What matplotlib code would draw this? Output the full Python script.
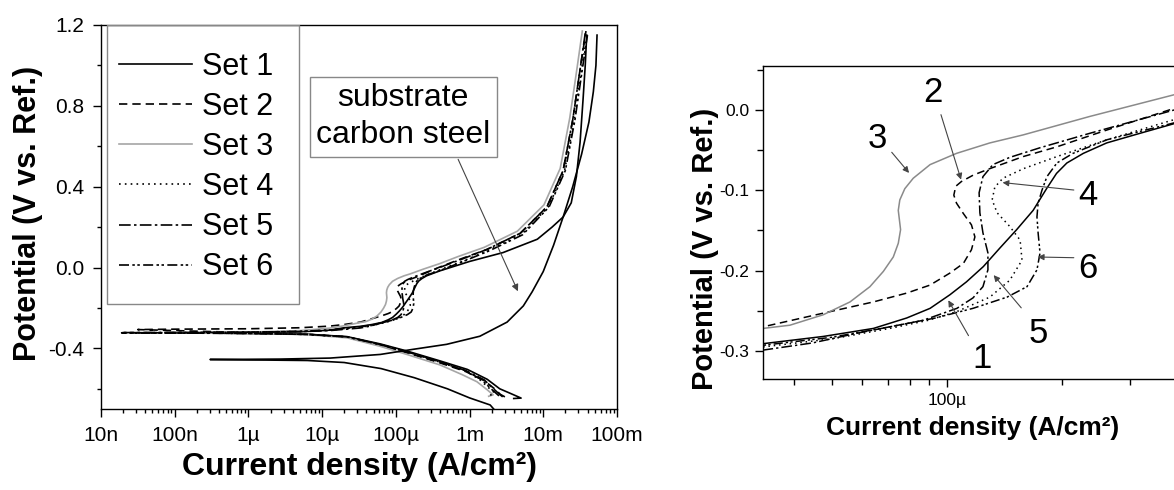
import numpy as np
import matplotlib.pyplot as plt
from matplotlib.patches import Rectangle
from matplotlib.ticker import FixedLocator, FuncFormatter, LogLocator, MultipleLocator, NullFormatter

plt.rcParams['font.family'] = ['Liberation Sans', 'DejaVu Sans']

# log10 of current density (A/cm2) and potential (V vs. Ref.)
# each curve runs cathodic end -> Ecorr -> anodic end
set1_logi = [-2.40, -2.30, -2.45, -2.59, -2.76, -3.03, -3.40, -3.85, -4.21, -4.66, -5.20, -6.00, -6.60,
             -6.00, -5.30, -4.90, -4.70, -4.48, -4.323, -4.192, -4.105, -4.044, -3.992, -3.949, -3.905,
             -3.862, -3.818, -3.775, -3.740, -3.714, -3.687, -3.644, -3.583, -3.496, -3.407, -3.00,
             -2.545, -2.08, -1.88, -1.73, -1.62, -1.55, -1.50, -1.46, -1.43, -1.41]
set1_e = [-0.648, -0.646, -0.622, -0.600, -0.553, -0.504, -0.462, -0.413, -0.378, -0.342, -0.330, -0.326, -0.324,
          -0.321, -0.318, -0.310, -0.298, -0.291, -0.282, -0.272, -0.259, -0.247, -0.230, -0.214, -0.195,
          -0.172, -0.149, -0.125, -0.098, -0.079, -0.066, -0.054, -0.041, -0.029, -0.017, 0.030,
          0.074, 0.140, 0.200, 0.250, 0.320, 0.450, 0.620, 0.830, 1.000, 1.150]

set2_logi = [-2.52, -2.58, -2.66, -2.80, -3.05, -3.40, -3.85, -4.21, -4.66, -5.20, -6.00, -7.00, -7.50,
             -7.00, -6.00, -5.30, -4.90, -4.70, -4.48, -4.323, -4.192, -4.105, -4.044, -3.992, -3.957,
             -3.936, -3.927, -3.936, -3.957, -3.975, -3.982, -3.977, -3.962, -3.931, -3.888, -3.801,
             -3.714, -3.583, -3.407, -3.10, -2.76, -2.31, -1.95, -1.73, -1.60, -1.50, -1.42]
set2_e = [-0.640, -0.628, -0.600, -0.560, -0.515, -0.472, -0.422, -0.385, -0.345, -0.330, -0.322, -0.312, -0.307,
          -0.305, -0.303, -0.298, -0.290, -0.282, -0.270, -0.253, -0.239, -0.228, -0.218, -0.203, -0.191,
          -0.174, -0.158, -0.143, -0.129, -0.116, -0.106, -0.095, -0.089, -0.081, -0.073, -0.058,
          -0.046, -0.025, 0.002, 0.045, 0.090, 0.170, 0.300, 0.480, 0.730, 0.980, 1.170]

set3_logi = [-2.74, -2.68, -2.76, -2.90, -3.10, -3.40, -3.85, -4.21, -4.66, -5.20, -6.00, -6.90,
             -6.00, -5.30, -4.90, -4.70, -4.48, -4.41, -4.323, -4.253, -4.201, -4.166, -4.140, -4.127,
             -4.121, -4.124, -4.127, -4.123, -4.110, -4.088, -4.044, -3.975, -3.888, -3.801, -3.627,
             -3.407, -3.15, -2.80, -2.35, -1.99, -1.77, -1.64, -1.54, -1.47]
set3_e = [-0.637, -0.630, -0.605, -0.565, -0.530, -0.482, -0.430, -0.390, -0.348, -0.332, -0.326, -0.324,
          -0.320, -0.312, -0.300, -0.288, -0.272, -0.268, -0.255, -0.239, -0.220, -0.201, -0.183, -0.166,
          -0.149, -0.137, -0.125, -0.112, -0.098, -0.085, -0.068, -0.054, -0.041, -0.031, -0.008,
          0.019, 0.055, 0.100, 0.180, 0.310, 0.490, 0.740, 0.990, 1.170]

set4_logi = [-2.72, -2.66, -2.74, -2.86, -3.05, -3.40, -3.85, -4.21, -4.66, -5.20, -6.00, -7.30,
             -6.00, -5.30, -4.90, -4.70, -4.48, -4.30, -4.149, -4.05, -3.974, -3.888, -3.836, -3.804,
             -3.809, -3.836, -3.869, -3.882, -3.875, -3.854, -3.80, -3.713, -3.582, -3.407, -3.10,
             -2.74, -2.29, -1.93, -1.71, -1.58, -1.48, -1.41]
set4_e = [-0.632, -0.620, -0.595, -0.555, -0.512, -0.468, -0.418, -0.382, -0.343, -0.331, -0.326, -0.323,
          -0.320, -0.316, -0.310, -0.303, -0.295, -0.285, -0.272, -0.262, -0.251, -0.233, -0.212, -0.187,
          -0.162, -0.145, -0.128, -0.112, -0.096, -0.085, -0.073, -0.058, -0.037, -0.012, 0.030,
          0.085, 0.165, 0.300, 0.480, 0.730, 0.980, 1.140]

set5_logi = [-2.55, -2.60, -2.68, -2.80, -3.05, -3.40, -3.85, -4.21, -4.66, -5.20, -6.00, -7.72,
             -7.00, -6.00, -5.30, -4.90, -4.70, -4.48, -4.35, -4.235, -4.063, -3.974, -3.932, -3.906,
             -3.893, -3.893, -3.906, -3.914, -3.916, -3.906, -3.88, -3.836, -3.757, -3.627, -3.407,
             -3.10, -2.76, -2.31, -1.95, -1.73, -1.60, -1.50, -1.43]
set5_e = [-0.640, -0.625, -0.598, -0.556, -0.510, -0.466, -0.416, -0.381, -0.343, -0.331, -0.326, -0.322,
          -0.321, -0.320, -0.317, -0.312, -0.306, -0.299, -0.290, -0.278, -0.262, -0.247, -0.234, -0.220,
          -0.199, -0.178, -0.153, -0.128, -0.103, -0.083, -0.068, -0.059, -0.047, -0.029, 0.000,
          0.042, 0.090, 0.170, 0.300, 0.480, 0.730, 0.980, 1.160]

set6_logi = [-2.60, -2.64, -2.72, -2.83, -3.05, -3.40, -3.85, -4.21, -4.66, -5.20, -6.00, -7.72,
             -7.00, -6.00, -5.30, -4.90, -4.70, -4.48, -4.30, -4.149, -4.03, -3.932, -3.843, -3.791,
             -3.765, -3.757, -3.762, -3.765, -3.762, -3.752, -3.739, -3.713, -3.671, -3.582, -3.407,
             -3.10, -2.73, -2.28, -1.92, -1.70, -1.57, -1.47, -1.40]
set6_e = [-0.635, -0.622, -0.596, -0.556, -0.511, -0.467, -0.417, -0.381, -0.343, -0.331, -0.326, -0.323,
          -0.322, -0.320, -0.316, -0.309, -0.302, -0.293, -0.283, -0.270, -0.259, -0.247, -0.233, -0.220,
          -0.199, -0.178, -0.153, -0.133, -0.116, -0.100, -0.083, -0.066, -0.054, -0.037, -0.016,
          0.028, 0.083, 0.162, 0.300, 0.480, 0.730, 0.980, 1.150]

substrate_logi = [-2.66, -2.72, -3.00, -3.30, -3.75, -4.20, -4.70, -5.20, -6.00, -6.52,
                  -6.00, -5.57, -4.89, -4.21, -3.77, -3.31, -2.86, -2.49, -2.27, -2.15, -2.00,
                  -1.86, -1.73, -1.60, -1.48, -1.38, -1.32, -1.285, -1.27]
substrate_e = [-0.705, -0.680, -0.645, -0.600, -0.545, -0.500, -0.470, -0.460, -0.457, -0.455,
               -0.454, -0.453, -0.448, -0.430, -0.405, -0.380, -0.340, -0.270, -0.190, -0.120, -0.020,
               0.110, 0.250, 0.400, 0.560, 0.720, 0.870, 1.000, 1.150]

set_labels = ['Set 1', 'Set 2', 'Set 3', 'Set 4', 'Set 5', 'Set 6']
set_logi = [set1_logi, set2_logi, set3_logi, set4_logi, set5_logi, set6_logi]
set_e = [set1_e, set2_e, set3_e, set4_e, set5_e, set6_e]

left_ticks = [1e-8, 1e-7, 1e-6, 1e-5, 1e-4, 1e-3, 1e-2, 1e-1]
left_tick_labels = ['10n', '100n', '1\u00b5', '10\u00b5', '100\u00b5', '1m', '10m', '100m']

line_styles = ['-', (0, (5, 3)), '-', (0, (1, 2.5)), (0, (7, 2, 1.5, 2)), (0, (6, 2, 1.5, 1.5, 1.5, 2))]
gray = '#a6a6a6'


def left_label(v, pos):
    k = int(round(np.log10(v))) + 8
    return left_tick_labels[k] if 0 <= k < len(left_tick_labels) else ''


fig = plt.figure(figsize=(11.74, 4.90), dpi=100)
ax1 = fig.add_axes([0.0860, 0.1653, 0.4395, 0.7837])
ax2 = fig.add_axes([0.6499, 0.2265, 0.3535, 0.6388])

# left: full polarization curves
for lab, li, e, ls in zip(set_labels, set_logi, set_e, line_styles):
    col = gray if lab == 'Set 3' else 'black'
    ax1.plot(10 ** np.array(li), e, ls=ls, color=col, lw=1.2, label=lab)
ax1.plot(10 ** np.array(substrate_logi), substrate_e, '-', color='black', lw=1.2)

ax1.set_xscale('log')
ax1.set_xlim(1e-8, 1e-1)
ax1.set_ylim(-0.70, 1.2)
ax1.xaxis.set_major_locator(FixedLocator(left_ticks))
ax1.xaxis.set_major_formatter(FuncFormatter(left_label))
ax1.xaxis.set_minor_locator(LogLocator(base=10, subs=np.arange(2, 10), numticks=20))
ax1.xaxis.set_minor_formatter(NullFormatter())
ax1.yaxis.set_major_locator(MultipleLocator(0.4))
ax1.yaxis.set_minor_locator(MultipleLocator(0.2))
ax1.yaxis.set_major_formatter(FuncFormatter(lambda v, p: '%.1f' % v))
ax1.tick_params(which='both', direction='out', top=False, right=False, width=1.0)
ax1.tick_params(which='major', length=6, labelsize=15, pad=6)
ax1.tick_params(which='minor', length=3)
for sp in ax1.spines.values():
    sp.set_linewidth(1.0)

ax1.set_xlabel('Current density (A/cm\u00b2)', fontsize=23, fontweight='bold')
ax1.xaxis.set_label_coords(0.502, -0.151)
ax1.xaxis.label.set_va('center')
ax1.set_ylabel('Potential (V vs. Ref.)', fontsize=22, fontweight='bold')
ax1.yaxis.set_label_coords(-0.1415, 0.51)
ax1.yaxis.label.set_va('center')

# legend entries without frame, frame drawn as a box hanging from the top spine
ax1.legend(loc='upper left', bbox_to_anchor=(0.035, 0.93), borderaxespad=0, borderpad=0,
           fontsize=22, handlelength=2.4, handletextpad=0.3, labelspacing=0.33, frameon=False)
ax1.add_patch(Rectangle((0.0116, 0.2734), 0.3721, 0.7266, transform=ax1.transAxes,
                        fill=False, ec='#888888', lw=1.0, zorder=5))

ax1.annotate('', xy=(4.7e-3, -0.13), xytext=(6.76e-4, 0.548),
             arrowprops=dict(arrowstyle='-|>', color='#444444', lw=0.8, mutation_scale=10))
ax1.text(1.26e-4, 0.746, 'substrate\ncarbon steel', fontsize=23, ha='center', va='center',
         linespacing=1.3,
         bbox=dict(boxstyle='square,pad=0.2', fc='white', ec='#888888', lw=1.0))

# right: zoom on the passivation region
for lab, li, e, ls in zip(set_labels, set_logi, set_e, line_styles):
    col = '#8a8a8a' if lab == 'Set 3' else 'black'
    ax2.plot(10 ** np.array(li), e, ls=ls, color=col, lw=1.1)

ax2.set_xscale('log')
ax2.set_xlim(3.31e-5, 4.01e-4)
ax2.set_ylim(-0.335, 0.0548)
ax2.xaxis.set_major_locator(FixedLocator([1e-4]))
ax2.xaxis.set_major_formatter(FuncFormatter(lambda v, p: '100\u00b5'))
ax2.xaxis.set_minor_locator(LogLocator(base=10, subs=np.arange(2, 10), numticks=20))
ax2.xaxis.set_minor_formatter(NullFormatter())
ax2.yaxis.set_major_locator(MultipleLocator(0.1))
ax2.yaxis.set_minor_locator(MultipleLocator(0.05))
ax2.yaxis.set_major_formatter(FuncFormatter(lambda v, p: '%.1f' % v))
ax2.tick_params(which='both', direction='out', top=False, right=False, width=1.0)
ax2.tick_params(which='major', length=6, labelsize=12.5, pad=4)
ax2.tick_params(which='minor', length=4)
for sp in ax2.spines.values():
    sp.set_linewidth(1.0)

ax2.set_xlabel('Current density (A/cm\u00b2)', fontsize=19, fontweight='bold')
ax2.xaxis.set_label_coords(0.504, -0.157)
ax2.xaxis.label.set_va('center')
ax2.set_ylabel('Potential (V vs. Ref.)', fontsize=21, fontweight='bold')
ax2.yaxis.set_label_coords(-0.14, 0.417)
ax2.yaxis.label.set_va('center')

# numbered callouts: label position, arrow tail, arrow tip
callouts = [
    ('3', (6.6e-5, -0.035), (7.1e-5, -0.050), (8.05e-5, -0.081)),
    ('2', (9.19e-5, 0.022), (9.6e-5, -0.0025), (1.094e-4, -0.090)),
    ('4', (2.33e-4, -0.106), (2.18e-4, -0.100), (1.374e-4, -0.090)),
    ('6', (2.33e-4, -0.197), (2.18e-4, -0.184), (1.698e-4, -0.183)),
    ('5', (1.73e-4, -0.278), (1.58e-4, -0.249), (1.31e-4, -0.203)),
    ('1', (1.234e-4, -0.309), (1.148e-4, -0.284), (1.0e-4, -0.234)),
]
for num, pos, tail, tip in callouts:
    ax2.text(pos[0], pos[1], num, fontsize=25, ha='center', va='center')
    ax2.annotate('', xy=tip, xytext=tail,
                 arrowprops=dict(arrowstyle='-|>', color='#444444', lw=0.8, mutation_scale=9))

fig.savefig('out.png', dpi=100)
